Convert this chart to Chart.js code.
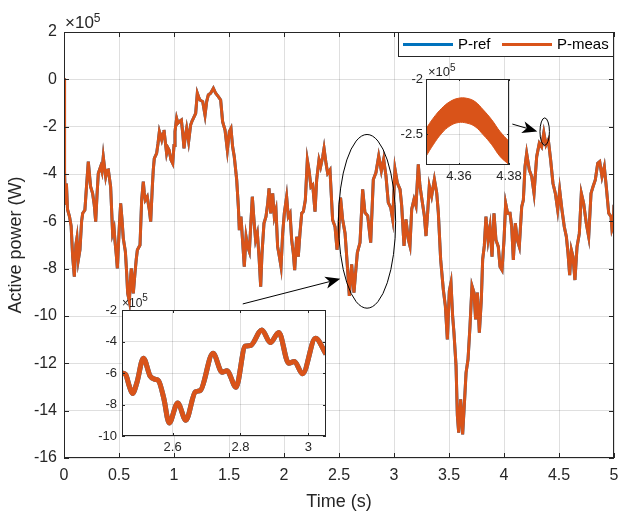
<!DOCTYPE html>
<html>
<head>
<meta charset="utf-8">
<script src="https://cdn.jsdelivr.net/npm/chart.js@4.4.1/dist/chart.umd.min.js"></script>
<style>
  body { margin: 0; background: #fff; }
  #wrap { position: relative; width: 620px; height: 513px; }
  #wrap canvas { position: absolute; }
</style>
</head>
<body>
<div id="wrap">
  <canvas id="chart" width="620" height="513" style="left:0;top:0"></canvas>
  <canvas id="zoomA" width="245" height="175" style="left:90px;top:290px"></canvas>
  <canvas id="zoomB" width="135" height="130" style="left:395px;top:60px"></canvas>
</div>
<script>
// values in units of 1e5 W (axis shows x10^5)
const seriesNames = ['P-ref', 'P-meas'];

const timeS = [
  0.000, 0.005, 0.012, 0.022, 0.032, 0.050, 0.065, 0.079, 0.094, 0.108, 0.118, 0.130, 0.145, 0.160, 0.170, 0.190,
  0.205, 0.221, 0.235, 0.242, 0.260, 0.275, 0.288, 0.300, 0.312, 0.333, 0.345, 0.357, 0.368, 0.379, 0.390, 0.403,
  0.424, 0.442, 0.455, 0.464, 0.475, 0.485, 0.495, 0.503, 0.515, 0.527, 0.539, 0.558, 0.570, 0.579, 0.594, 0.605,
  0.612, 0.622, 0.630, 0.645, 0.657, 0.667, 0.691, 0.706, 0.721, 0.730, 0.739, 0.757, 0.768, 0.776, 0.788, 0.803,
  0.812, 0.821, 0.842, 0.855, 0.867, 0.878, 0.888, 0.900, 0.909, 0.920, 0.933, 0.945, 0.955, 0.973, 0.988, 1.000,
  1.009, 1.024, 1.036, 1.048, 1.067, 1.080, 1.091, 1.103, 1.115, 1.133, 1.151, 1.165, 1.176, 1.197, 1.212, 1.224,
  1.236, 1.261, 1.282, 1.297, 1.312, 1.333, 1.358, 1.379, 1.403, 1.424, 1.442, 1.464, 1.485, 1.503, 1.518, 1.533,
  1.548, 1.570, 1.585, 1.594, 1.609, 1.621, 1.639, 1.655, 1.670, 1.685, 1.697, 1.712, 1.727, 1.742, 1.758, 1.773,
  1.788, 1.800, 1.818, 1.836, 1.852, 1.864, 1.879, 1.897, 1.912, 1.927, 1.942, 1.958, 1.973, 1.988, 2.003, 2.024,
  2.039, 2.055, 2.070, 2.085, 2.097, 2.115, 2.130, 2.145, 2.161, 2.176, 2.194, 2.212, 2.227, 2.245, 2.261, 2.282,
  2.297, 2.318, 2.333, 2.352, 2.364, 2.382, 2.397, 2.418, 2.442, 2.464, 2.482, 2.495, 2.514, 2.533, 2.555, 2.576,
  2.594, 2.615, 2.636, 2.651, 2.667, 2.691, 2.715, 2.736, 2.761, 2.788, 2.812, 2.836, 2.861, 2.885, 2.906, 2.927,
  2.948, 2.970, 2.988, 3.009, 3.030, 3.055, 3.070, 3.091, 3.109, 3.130, 3.145, 3.161, 3.182, 3.200, 3.221, 3.236,
  3.258, 3.276, 3.291, 3.306, 3.321, 3.342, 3.367, 3.388, 3.403, 3.424, 3.448, 3.467, 3.485, 3.503, 3.518, 3.533,
  3.545, 3.564, 3.576, 3.588, 3.606, 3.624, 3.642, 3.655, 3.673, 3.691, 3.709, 3.727, 3.742, 3.758, 3.776, 3.794,
  3.806, 3.821, 3.836, 3.855, 3.873, 3.891, 3.909, 3.927, 3.948, 3.964, 3.982, 4.000, 4.015, 4.033, 4.055, 4.070,
  4.085, 4.103, 4.121, 4.139, 4.161, 4.176, 4.191, 4.206, 4.230, 4.252, 4.273, 4.297, 4.321, 4.342, 4.362, 4.382,
  4.403, 4.424, 4.445, 4.467, 4.488, 4.506, 4.527, 4.548, 4.567, 4.582, 4.597, 4.612, 4.627, 4.645, 4.664, 4.685,
  4.703, 4.724, 4.748, 4.770, 4.791, 4.809, 4.830, 4.852, 4.870, 4.891, 4.912, 4.930, 4.952, 4.973, 4.982, 4.991,
  5.000
];

const pMeas = [
  0.05, -3.90, -5.30, -4.40, -5.50, -5.80, -6.20, -7.50, -8.34, -7.00, -6.70, -7.63, -7.20, -6.00, -5.66, -5.52,
  -4.50, -3.48, -4.20, -4.54, -4.82, -5.30, -6.01, -4.90, -3.97, -3.69, -3.90, -3.27, -3.70, -4.11, -3.85, -3.83,
  -4.54, -6.51, -6.30, -6.86, -7.40, -7.99, -7.00, -6.23, -5.24, -5.90, -6.72, -7.28, -8.20, -9.04, -9.39, -8.40,
  -7.99, -8.60, -9.04, -8.20, -7.60, -7.21, -7.00, -5.10, -4.32, -4.80, -5.10, -4.96, -5.30, -5.52, -6.01, -4.54,
  -3.80, -3.34, -3.13, -2.70, -2.21, -2.40, -2.56, -2.30, -2.14, -2.60, -3.13, -2.90, -2.99, -3.41, -3.55, -2.80,
  -2.21, -1.65, -1.85, -1.79, -1.72, -2.30, -2.92, -2.40, -2.07, -2.63, -1.93, -1.75, -1.65, -1.44, -0.59, -0.75,
  -0.87, -0.94, -1.51, -0.94, -0.66, -0.59, -0.38, -0.59, -0.73, -0.87, -1.79, -2.14, -2.99, -2.21, -2.07, -2.85,
  -3.27, -4.25, -5.38, -6.37, -5.80, -6.65, -7.92, -6.65, -7.07, -7.28, -6.23, -4.96, -5.94, -6.79, -6.51, -7.49,
  -8.76, -7.35, -6.08, -5.80, -5.24, -4.61, -5.66, -4.82, -5.80, -5.52, -7.07, -7.49, -7.92, -6.51, -5.66, -4.96,
  -5.80, -5.66, -6.79, -7.35, -8.06, -6.65, -7.49, -6.51, -5.66, -5.59, -5.10, -3.41, -3.83, -4.54, -4.46, -5.59,
  -4.25, -3.41, -3.69, -3.27, -2.92, -3.55, -3.97, -3.83, -5.94, -6.23, -7.20, -6.60, -5.00, -5.92, -6.50, -7.89,
  -9.15, -7.82, -9.01, -8.17, -7.32, -6.90, -4.65, -5.63, -5.77, -6.90, -4.23, -3.94, -3.24, -3.87, -3.38, -4.08,
  -5.21, -5.42, -5.92, -3.80, -4.37, -4.65, -5.35, -7.04, -5.92, -6.76, -7.04, -5.49, -5.07, -5.35, -3.59, -4.51,
  -5.21, -5.77, -6.62, -5.63, -4.51, -4.93, -4.23, -4.79, -5.63, -7.61, -8.87, -9.58, -10.99, -8.94, -8.59, -10.00,
  -10.70, -12.11, -14.20, -14.93, -13.52, -15.00, -13.52, -12.40, -11.83, -10.42, -8.73, -9.01, -10.14, -9.01, -10.70, -9.30,
  -7.61, -7.04, -5.80, -6.79, -6.23, -7.49, -5.66, -6.79, -7.07, -7.92, -8.06, -6.79, -5.24, -5.66, -5.66, -6.23,
  -7.63, -6.08, -6.79, -7.07, -5.38, -5.10, -3.69, -3.13, -3.83, -4.11, -4.82, -3.27, -2.70, -2.85, -2.25, -2.77,
  -2.56, -3.41, -4.39, -4.82, -5.52, -4.68, -5.52, -6.23, -6.65, -7.35, -8.27, -7.21, -7.49, -8.48, -7.07, -6.51,
  -4.82, -5.24, -6.08, -6.65, -4.82, -4.54, -4.25, -3.55, -3.48, -4.11, -3.69, -4.54, -5.66, -5.80, -6.35, -6.23,
  -5.30
];
// the blue reference trace sits exactly under the orange one
const pRef = pMeas.slice();

const xTicks = [0, 0.5, 1, 1.5, 2, 2.5, 3, 3.5, 4, 4.5, 5];
const yTicks = [2, 0, -2, -4, -6, -8, -10, -12, -14, -16];

// zoom window 1 (bottom left)
const zoomATime = [2.451, 2.462, 2.472, 2.482, 2.495, 2.514, 2.534, 2.549, 2.559, 2.574, 2.590, 2.615, 2.639, 2.667,
  2.682, 2.719, 2.746, 2.760, 2.787, 2.814, 2.829, 2.863, 2.888, 2.913, 2.942, 2.959, 2.983, 3.021, 3.052];
const zoomAPower = [-6.00, -6.10, -6.80, -7.30, -6.60, -5.06, -6.20, -6.40, -6.50, -7.60, -9.17, -7.90, -9.00, -7.20,
  -7.10, -4.74, -5.95, -5.86, -6.90, -4.30, -4.26, -3.27, -4.07, -3.43, -5.38, -5.27, -6.05, -3.79, -4.80];
const zoomAXTicks = [2.6, 2.8, 3];
const zoomAYTicks = [-2, -4, -6, -8, -10];

// zoom window 2 (top right), band of fast ripple
const zoomBTime = [4.3468, 4.3497, 4.3531, 4.3564, 4.3597, 4.3631, 4.3664, 4.3697, 4.3731, 4.3764, 4.3800];
const zoomBUpper = [-2.452, -2.355, -2.265, -2.205, -2.175, -2.175, -2.205, -2.280, -2.370, -2.476, -2.566];
const zoomBLower = [-2.702, -2.596, -2.491, -2.425, -2.395, -2.400, -2.431, -2.506, -2.596, -2.702, -2.777];
const zoomBXTicks = [4.36, 4.38];
const zoomBYTicks = [-2, -2.5];

const FONT = "'Liberation Sans', Arial, sans-serif";
const INK = '#262626';
const GRID = 'rgba(38,38,38,0.15)';
const refColor = '#0072BD';
const measColor = '#D95319';

const pts = (xs, ys) => xs.map((x, i) => ({ x: x, y: ys[i] }));

// matlab-like box: white plot area, frame, inward ticks, x10^5 label
const axesBox = {
  id: 'axesBox',
  beforeDraw(chart, args, opts) {
    const a = chart.chartArea, ctx = chart.ctx;
    ctx.save();
    ctx.fillStyle = '#fff';
    ctx.fillRect(a.left, a.top, a.right - a.left, a.bottom - a.top);
    ctx.restore();
  },
  afterDatasetsDraw(chart, args, opts) {
    const a = chart.chartArea, ctx = chart.ctx;
    const xs = chart.scales.x, ys = chart.scales.y;
    const t = opts.tick;
    ctx.save();
    ctx.strokeStyle = INK;
    ctx.lineWidth = 1;
    ctx.beginPath();
    xs.ticks.forEach(k => {
      const p = Math.round(xs.getPixelForValue(k.value)) + 0.5;
      ctx.moveTo(p, a.bottom); ctx.lineTo(p, a.bottom - t);
      ctx.moveTo(p, a.top); ctx.lineTo(p, a.top + t);
    });
    ys.ticks.forEach(k => {
      const p = Math.round(ys.getPixelForValue(k.value)) + 0.5;
      ctx.moveTo(a.left, p); ctx.lineTo(a.left + t, p);
      ctx.moveTo(a.right, p); ctx.lineTo(a.right - t, p);
    });
    ctx.stroke();
    ctx.strokeRect(Math.round(a.left) + 0.5, Math.round(a.top) + 0.5,
      Math.round(a.right - a.left) - 1, Math.round(a.bottom - a.top) - 1);

    // exponent
    ctx.fillStyle = INK;
    ctx.textBaseline = 'alphabetic';
    ctx.font = opts.expSize + 'px ' + FONT;
    const base = '\u00d710';
    ctx.fillText(base, a.left + opts.expDx, a.top - opts.expDy);
    const w = ctx.measureText(base).width;
    ctx.font = opts.supSize + 'px ' + FONT;
    ctx.fillText('5', a.left + opts.expDx + w, a.top - opts.supDy);
    ctx.restore();
  }
};

// legend, ellipses and arrows on the main axes
const callouts = {
  id: 'callouts',
  afterDraw(chart, args, opts) {
    const a = chart.chartArea, ctx = chart.ctx;
    const xs = chart.scales.x, ys = chart.scales.y;
    ctx.save();

    ctx.strokeStyle = '#000';
    ctx.lineWidth = 1;
    opts.ellipses.forEach(e => {
      const cx = xs.getPixelForValue(e.x), cy = ys.getPixelForValue(e.y);
      const rx = Math.abs(xs.getPixelForValue(e.x + e.rx) - cx);
      const ry = Math.abs(ys.getPixelForValue(e.y + e.ry) - cy);
      ctx.beginPath();
      ctx.ellipse(cx, cy, rx, ry, 0, 0, Math.PI * 2);
      ctx.stroke();
    });

    opts.arrows.forEach(r => {
      const x0 = xs.getPixelForValue(r.from[0]), y0 = ys.getPixelForValue(r.from[1]);
      const x1 = xs.getPixelForValue(r.to[0]), y1 = ys.getPixelForValue(r.to[1]);
      const ang = Math.atan2(y1 - y0, x1 - x0);
      const L = 15, W = 6, N = 4;
      const bx = x1 - L * Math.cos(ang), by = y1 - L * Math.sin(ang);
      ctx.beginPath();
      ctx.moveTo(x0, y0);
      ctx.lineTo(x1 - (L - N) * Math.cos(ang), y1 - (L - N) * Math.sin(ang));
      ctx.stroke();
      ctx.fillStyle = '#000';
      ctx.beginPath();
      ctx.moveTo(x1, y1);
      ctx.lineTo(bx + W * Math.sin(ang), by - W * Math.cos(ang));
      ctx.lineTo(x1 - (L - N) * Math.cos(ang), y1 - (L - N) * Math.sin(ang));
      ctx.lineTo(bx - W * Math.sin(ang), by + W * Math.cos(ang));
      ctx.closePath();
      ctx.fill();
    });

    // legend box in the top right corner
    const lw = 216, lh = 25;
    const lx = a.right - lw, ly = a.top;
    ctx.fillStyle = '#fff';
    ctx.fillRect(lx, ly, lw, lh);
    ctx.strokeStyle = INK;
    ctx.strokeRect(Math.round(lx) + 0.5, Math.round(ly) + 0.5, lw - 1, lh - 1);
    ctx.font = '15px ' + FONT;
    ctx.textBaseline = 'middle';
    chart.data.datasets.forEach((ds, i) => {
      const sx = lx + 5 + i * 99;
      ctx.strokeStyle = ds.borderColor;
      ctx.lineWidth = 3;
      ctx.beginPath();
      ctx.moveTo(sx, ly + 12.5);
      ctx.lineTo(sx + 50, ly + 12.5);
      ctx.stroke();
      ctx.fillStyle = '#000';
      ctx.fillText(ds.label, sx + 55, ly + 13);
    });
    ctx.restore();
  }
};

const axisOpts = (min, max, ticks, size, pad, fit, horizontal) => ({
  type: 'linear',
  min: min,
  max: max,
  afterBuildTicks: s => { s.ticks = ticks.map(v => ({ value: v })); },
  afterFit: s => {
    if (horizontal) { s.height = fit; s.paddingLeft = 0; s.paddingRight = 0; }
    else { s.width = fit; s.paddingTop = 0; s.paddingBottom = 0; }
  },
  grid: { color: GRID, lineWidth: 1, drawTicks: false },
  border: { display: false },
  ticks: { color: INK, padding: pad, font: { family: FONT, size: size }, callback: v => String(v), autoSkip: false, maxRotation: 0 }
});

const mainX = axisOpts(0, 5, xTicks, 16, 8, 55, true);
mainX.title = { display: true, text: 'Time (s)', color: INK, font: { family: FONT, size: 18 }, padding: { top: 0, bottom: 0 } };
const mainY = axisOpts(-16, 2, yTicks, 16, 7, 64, false);
mainY.title = { display: true, text: 'Active power (W)', color: INK, font: { family: FONT, size: 18 }, padding: { top: 5, bottom: 0 } };

new Chart(document.getElementById('chart'), {
  type: 'line',
  data: {
    datasets: [
      { label: seriesNames[0], data: pts(timeS, pRef), borderColor: refColor, borderWidth: 3, pointRadius: 0, order: 2 },
      { label: seriesNames[1], data: pts(timeS, pMeas), borderColor: measColor, borderWidth: 3, pointRadius: 0, order: 1 }
    ]
  },
  options: {
    responsive: false,
    animation: false,
    events: [],
    layout: { autoPadding: false, padding: { top: 32, right: 6, left: 0, bottom: 0 } },
    plugins: {
      legend: { display: false },
      tooltip: { enabled: false },
      axesBox: { tick: 5, expSize: 17, supSize: 12, expDx: 1, expDy: 4, supDy: 10 },
      callouts: {
        ellipses: [
          { x: 2.755, y: -6.0, rx: 0.26, ry: 3.67 },
          { x: 4.37, y: -2.21, rx: 0.043, ry: 0.58 }
        ],
        arrows: [
          { from: [1.625, -9.49], to: [2.512, -8.43] },
          { from: [4.076, -1.89], to: [4.303, -2.2] }
        ]
      }
    },
    scales: { x: mainX, y: mainY }
  },
  plugins: [axesBox, callouts]
});

new Chart(document.getElementById('zoomA'), {
  type: 'line',
  data: {
    datasets: [
      { label: seriesNames[0], data: pts(zoomATime, zoomAPower), borderColor: refColor, borderWidth: 5, pointRadius: 0, cubicInterpolationMode: 'monotone', order: 2 },
      { label: seriesNames[1], data: pts(zoomATime, zoomAPower), borderColor: measColor, borderWidth: 5, pointRadius: 0, cubicInterpolationMode: 'monotone', order: 1 }
    ]
  },
  options: {
    responsive: false,
    animation: false,
    events: [],
    layout: { autoPadding: false, padding: { top: 20, right: 9, left: 0, bottom: 0 } },
    plugins: {
      legend: { display: false },
      tooltip: { enabled: false },
      axesBox: { tick: 3, expSize: 12, supSize: 10, expDx: 0, expDy: 3, supDy: 9 }
    },
    scales: {
      x: axisOpts(2.451, 3.052, zoomAXTicks, 13, 4, 29, true),
      y: axisOpts(-10, -2, zoomAYTicks, 13, 5, 32, false)
    }
  },
  plugins: [axesBox]
});

new Chart(document.getElementById('zoomB'), {
  type: 'line',
  data: {
    datasets: [
      { label: 'upper', data: pts(zoomBTime, zoomBUpper), borderColor: measColor, backgroundColor: measColor, borderWidth: 1, pointRadius: 0, tension: 0.4, fill: '+1' },
      { label: 'lower', data: pts(zoomBTime, zoomBLower), borderColor: measColor, borderWidth: 1, pointRadius: 0, tension: 0.4, fill: false }
    ]
  },
  options: {
    responsive: false,
    animation: false,
    events: [],
    layout: { autoPadding: false, padding: { top: 19, right: 21, left: 0, bottom: 0 } },
    plugins: {
      legend: { display: false },
      tooltip: { enabled: false },
      filler: { propagate: false },
      axesBox: { tick: 2, expSize: 13, supSize: 10, expDx: 2, expDy: 3, supDy: 8 }
    },
    scales: {
      x: axisOpts(4.3468, 4.38, zoomBXTicks, 13, 4, 25, true),
      y: axisOpts(-2.78, -2, zoomBYTicks, 13, 3, 31, false)
    }
  },
  plugins: [axesBox]
});
</script>
</body>
</html>
